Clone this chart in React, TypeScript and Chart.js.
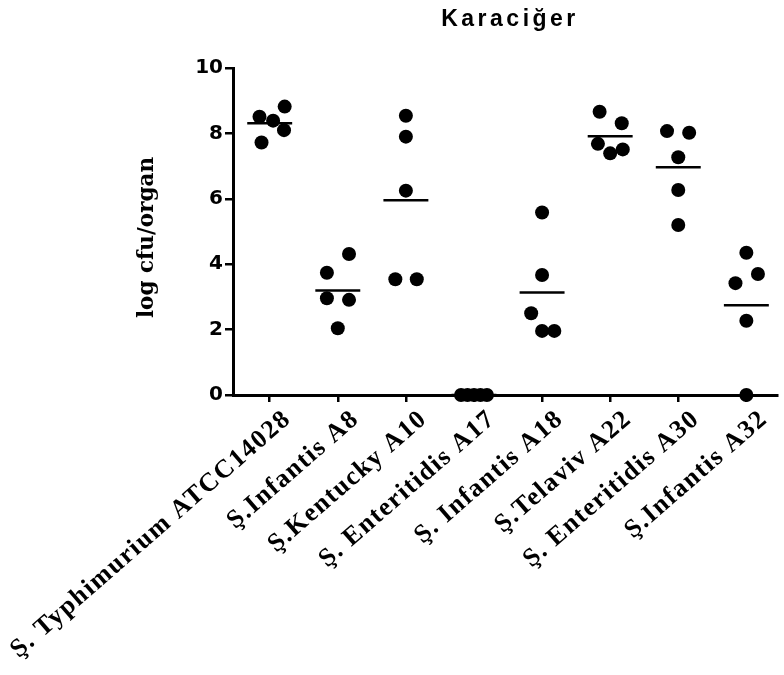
import React, { useEffect, useRef } from "react";
import { Chart, registerables } from "chart.js";

Chart.register(...registerables);

const chartTitle = "Karaciğer";
const yAxisTitle = "log cfu/organ";
const categories = [
  "Ş. Typhimurium ATCC14028",
  "Ş.Infantis A8",
  "Ş.Kentucky A10",
  "Ş. Enteritidis A17",
  "Ş. Infantis A18",
  "Ş.Telaviv A22",
  "Ş. Enteritidis A30",
  "Ş.Infantis A32",
];
const typhimurium = [8.51, 8.39, 8.82, 8.1, 7.72];
const infantisA8 = [3.74, 4.31, 2.96, 2.91, 2.04];
const kentuckyA10 = [8.54, 7.9, 6.25, 3.54, 3.54];
const enteritidisA17 = [0, 0, 0, 0, 0];
const infantisA18 = [5.58, 3.67, 2.5, 1.96, 1.96];
const telavivA22 = [8.66, 8.31, 7.68, 7.39, 7.51];
const enteritidisA30 = [8.07, 8.02, 7.27, 6.27, 5.2];
const infantisA32 = [4.35, 3.7, 3.42, 2.27, 0];
const groups = [typhimurium, infantisA8, kentuckyA10, enteritidisA17, infantisA18, telavivA22, enteritidisA30, infantisA32];
// horizontal scatter offsets of each dot within its column (category units)
const jitter = [
  [-0.15, 0.05, 0.22, 0.21, -0.12],
  [-0.16, 0.165, -0.16, 0.165, 0],
  [0, 0, 0, -0.155, 0.16],
  [-0.19, -0.095, 0, 0.095, 0.19],
  [0, 0, -0.16, 0, 0.18],
  [-0.155, 0.17, -0.18, 0, 0.185],
  [-0.165, 0.16, 0, 0, 0],
  [0, 0.17, -0.16, 0, 0],
];
const yMin = 0;
const yMax = 10;
const yStep = 2;

const extrasPlugin = {
  id: "extras",
  beforeDraw(chart: any) {
    const sx = chart.scales.x;
    if (sx && !sx.__spaced) {
      const orig = sx.drawLabels;
      sx.drawLabels = function (...args: any[]) {
        const ctx = this.ctx;
        const prev = ctx.letterSpacing;
        ctx.letterSpacing = "1.5px";
        orig.apply(this, args);
        ctx.letterSpacing = prev || "0px";
      };
      sx.__spaced = true;
    }
  },
  afterDraw(chart: any) {
    const { ctx, chartArea } = chart;
    ctx.save();
    ctx.letterSpacing = "3.5px";
    ctx.font = 'bold 23px "Liberation Sans", Arial, sans-serif';
    ctx.fillStyle = "#000";
    ctx.textAlign = "center";
    ctx.textBaseline = "alphabetic";
    ctx.fillText(chartTitle, (chartArea.left + chartArea.right) / 2 + 5, 26);
    ctx.restore();

    ctx.save();
    ctx.letterSpacing = "0px";
    ctx.font = 'bold 21.5px "DejaVu Serif", serif';
    ctx.fillStyle = "#000";
    ctx.textAlign = "center";
    ctx.textBaseline = "middle";
    ctx.translate(chartArea.left - 86, (chartArea.top + chartArea.bottom) / 2 + 6);
    ctx.rotate(-Math.PI / 2);
    ctx.fillText(yAxisTitle, 0, 0);
    ctx.restore();
  },
};

export default function App() {
  const ref = useRef<HTMLCanvasElement | null>(null);
  useEffect(() => {
    if (!ref.current) return;
    const dots = groups.flatMap((vals, i) => vals.map((v, j) => ({ x: i + jitter[i][j], y: v })));
    const meanSets = groups.map((vals, i) => {
      const m = vals.reduce((a, b) => a + b, 0) / vals.length;
      return {
        type: "scatter" as const,
        data: [
          { x: i - 0.33, y: m },
          { x: i + 0.33, y: m },
        ],
        showLine: true,
        borderColor: "#000",
        borderWidth: 2.5,
        pointRadius: 0,
        clip: false as any,
      };
    });
    const chart = new Chart(ref.current, {
      type: "scatter",
      data: {
        datasets: [
          {
            data: dots,
            backgroundColor: "#000",
            borderColor: "#000",
            borderWidth: 0,
            pointRadius: 7,
            clip: false as any,
          },
          ...meanSets,
        ] as any,
      },
      plugins: [extrasPlugin],
      options: {
        animation: false,
        responsive: true,
        maintainAspectRatio: false,
        layout: { padding: { top: 68, right: 2, bottom: 0, left: 0 } },
        plugins: { legend: { display: false }, tooltip: { enabled: false }, title: { display: false } },
        scales: {
          x: {
            type: "linear",
            min: -0.539,
            max: 7.45,
            afterBuildTicks: (axis: any) => {
              axis.ticks = categories.map((_, i) => ({ value: i }));
            },
            afterFit: (s: any) => {
              s.height = 280;
              s.paddingLeft = 0;
              s.paddingRight = 0;
            },
            grid: { display: true, drawOnChartArea: false, drawTicks: true, tickLength: 7, lineWidth: 2.5, color: "#000" },
            border: { display: true, width: 3, color: "#000" },
            ticks: {
              autoSkip: false,
              minRotation: 41,
              maxRotation: 41,
              padding: 2,
              labelOffset: 18,
              color: "#000",
              font: { family: '"Liberation Serif", "Times New Roman", serif', weight: "bold", size: 26 },
              callback: (v: any) => categories[Math.round(Number(v))] ?? "",
            },
          },
          y: {
            type: "linear",
            min: yMin,
            max: yMax,
            afterFit: (s: any) => {
              s.width = 233;
            },
            grid: { display: true, drawOnChartArea: false, drawTicks: true, tickLength: 8, lineWidth: 2.5, color: "#000" },
            border: { display: true, width: 3, color: "#000" },
            ticks: {
              stepSize: yStep,
              padding: 2,
              color: "#000",
              font: { family: '"DejaVu Sans", sans-serif', weight: "bold", size: 20 },
            },
            title: { display: false },
          },
        },
      } as any,
    });
    return () => chart.destroy();
  }, []);
  return (
    <div style={{ position: "fixed", left: 0, top: 0, width: 784, height: 675, background: "#fff" }}>
      <canvas ref={ref} />
    </div>
  );
}
